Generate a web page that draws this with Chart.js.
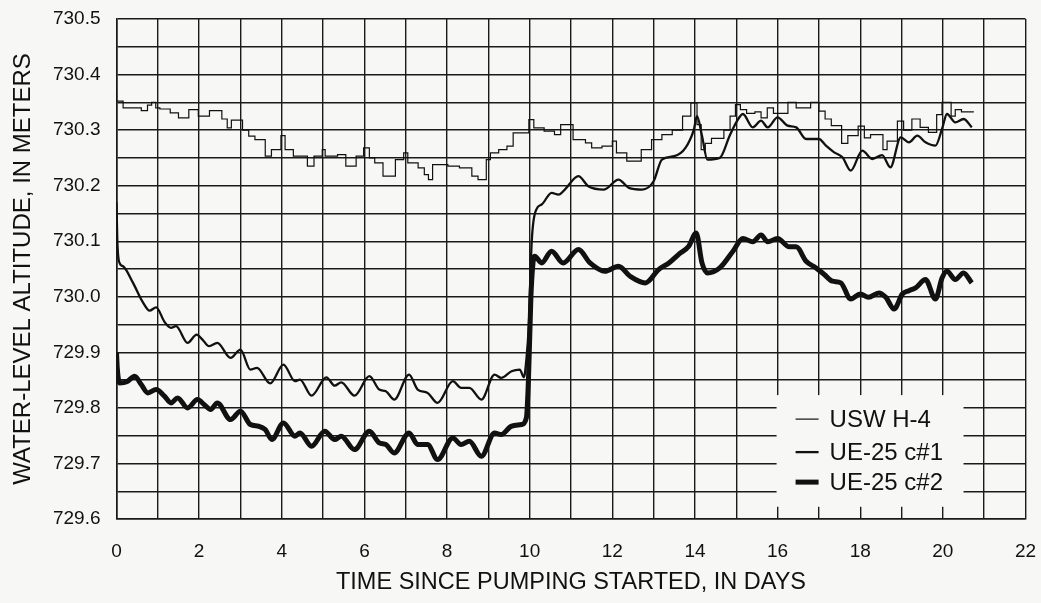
<!DOCTYPE html>
<html>
<head>
<meta charset="utf-8">
<script src="https://cdn.jsdelivr.net/npm/chart.js@4/dist/chart.umd.min.js"></script>
<style>
html,body{margin:0;padding:0;background:#f7f8f6;}
#wrap{width:1041px;height:603px;}
</style>
</head>
<body>
<div id="wrap"><canvas id="chartWater"></canvas></div>
<script>

const seriesNames = ["USW H-4","UE-25 c#1","UE-25 c#2"];

const h4Days = [0,0.16,0.6,0.75,0.85,0.95,1.05,1.3,1.5,1.75,1.98,2.25,2.55,2.68,2.78,3.05,3.2,3.35,3.6,3.75,3.98,4.08,4.28,4.62,4.78,4.98,5.05,5.35,5.55,5.8,5.98,6.12,6.25,6.45,6.75,6.95,7.05,7.3,7.45,7.55,7.65,8.02,8.3,8.6,8.75,8.95,9.05,9.25,9.45,9.6,9.98,10.1,10.35,10.6,10.75,11.05,11.35,11.5,11.75,12.0,12.1,12.35,12.7,12.95,13.2,13.45,13.7,13.9,14.05,14.15,14.25,14.4,14.7,14.85,14.98,15.1,15.25,15.45,15.6,15.75,15.9,16.25,16.45,16.8,17.0,17.15,17.3,17.55,17.7,17.95,18.1,18.25,18.55,18.65,18.9,19.05,19.25,19.45,19.65,19.85,19.98,20.2,20.3,20.45,20.75];
const h4Level = [730.373,730.352,730.340,730.335,730.345,730.350,730.340,730.338,730.331,730.322,730.337,730.325,730.335,730.320,730.304,730.318,730.300,730.289,730.283,730.253,730.265,730.290,730.265,730.253,730.235,730.253,730.265,730.253,730.256,730.235,730.253,730.268,730.250,730.241,730.217,730.247,730.259,730.241,730.232,730.220,730.211,730.238,730.235,730.232,730.217,730.211,730.247,730.259,730.265,730.271,730.295,730.319,730.304,730.298,730.292,730.310,730.283,730.277,730.268,730.271,730.280,730.259,730.244,730.265,730.283,730.292,730.300,730.325,730.349,730.310,730.265,730.276,730.285,730.300,730.325,730.346,730.337,730.330,730.333,730.322,730.340,730.330,730.350,730.340,730.350,730.334,730.320,730.308,730.276,730.290,730.307,730.286,730.292,730.265,730.280,730.316,730.300,730.320,730.305,730.296,730.328,730.350,730.325,730.337,730.333];

const c1Days = [0,0.02,0.08,0.16,0.4,0.64,0.8,0.96,1.16,1.32,1.44,1.72,1.94,2.08,2.24,2.44,2.76,3.0,3.24,3.4,3.72,4.04,4.32,4.44,4.72,5.08,5.28,5.44,5.76,6.12,6.36,6.52,6.72,7.08,7.29,7.53,7.77,8.14,8.34,8.54,8.83,9.15,9.31,9.56,9.76,9.86,9.92,9.98,10.05,10.16,10.29,10.53,10.7,10.85,11.18,11.42,11.8,12.15,12.4,12.72,13.0,13.2,13.5,13.77,13.97,14.05,14.17,14.3,14.6,14.84,15.0,15.16,15.4,15.6,15.76,16.0,16.24,16.45,16.69,17.0,17.17,17.37,17.57,17.77,18.05,18.29,18.53,18.73,18.98,19.18,19.38,19.58,19.82,19.98,20.1,20.3,20.5,20.7];
const c1Level = [730.170,730.100,730.060,730.055,730.025,729.990,729.975,729.981,729.955,729.944,729.947,729.917,729.932,729.923,729.911,729.917,729.890,729.905,729.869,729.872,729.844,729.878,729.848,729.851,729.822,729.855,729.840,729.846,729.822,729.857,729.833,729.830,729.815,729.860,729.833,729.827,729.809,729.848,729.836,729.836,729.815,729.860,729.854,729.866,729.869,729.855,729.887,729.950,730.100,730.157,730.166,730.187,730.184,730.193,730.217,730.199,730.193,730.211,730.196,730.193,730.208,730.247,730.253,730.268,730.300,730.325,730.290,730.247,730.250,730.290,730.314,730.329,730.305,730.317,730.305,730.323,730.308,730.305,730.284,730.284,730.272,730.260,730.251,730.227,730.263,730.248,730.255,730.233,730.287,730.278,730.290,730.278,730.272,730.302,730.329,730.314,730.320,730.305];

const c2Days = [0,0.02,0.08,0.25,0.44,0.6,0.76,0.96,1.16,1.32,1.48,1.72,1.96,2.12,2.28,2.44,2.76,3.0,3.24,3.44,3.6,3.76,4.04,4.32,4.44,4.72,5.04,5.28,5.44,5.76,6.12,6.36,6.52,6.72,7.08,7.29,7.53,7.77,8.14,8.34,8.54,8.83,9.15,9.31,9.56,9.8,9.92,9.97,10.03,10.08,10.12,10.29,10.53,10.81,11.18,11.46,11.82,12.15,12.43,12.8,13.12,13.37,13.6,13.85,14.03,14.17,14.3,14.6,14.92,15.16,15.4,15.6,15.76,16.0,16.28,16.45,16.69,16.93,17.13,17.33,17.53,17.77,18.0,18.2,18.45,18.62,18.82,19.02,19.18,19.34,19.58,19.82,19.98,20.1,20.3,20.5,20.7];
const c2Level = [729.900,729.870,729.845,729.847,729.857,729.842,729.827,729.833,729.821,729.809,729.818,729.800,729.815,729.806,729.797,729.809,729.779,729.794,729.770,729.767,729.761,729.743,729.773,729.749,729.755,729.731,729.758,729.743,729.749,729.725,729.758,729.737,729.734,729.719,729.755,729.734,729.734,729.707,729.746,729.734,729.740,729.713,729.755,729.752,729.767,729.770,729.782,729.850,730.000,730.061,730.073,730.061,730.082,730.061,730.085,730.061,730.046,730.055,730.037,730.025,730.049,730.061,730.076,730.091,730.115,730.061,730.043,730.052,730.082,730.105,730.099,730.111,730.099,730.105,730.090,730.090,730.064,730.052,730.040,730.028,730.025,729.996,730.005,729.999,730.007,729.999,729.978,730.005,730.011,730.016,730.031,729.996,730.034,730.046,730.031,730.043,730.025];

const xMin = 0, xMax = 22, xStep = 1;
const yMin = 729.6, yMax = 730.5, yStep = 0.05;

const ink = "#111";
const paper = "#f7f8f6";
const fontName = "'Liberation Sans', Arial, sans-serif";

function pts(xs, ys){
return xs.map((x,i)=>({x:x, y:ys[i]}));
}

function noOverflow(scale){
scale.paddingTop = 0;
scale.paddingBottom = 0;
scale.paddingLeft = 0;
scale.paddingRight = 0;
}

// legend drawn inside the plot, on a blank box that hides the grid
const boxLegend = {
id:"boxLegend",
afterDatasetsDraw(chart){
const ctx = chart.ctx;
const xs = chart.scales.x, ys = chart.scales.y;
const left = xs.getPixelForValue(16), right = xs.getPixelForValue(20.5);
const top = ys.getPixelForValue(729.823), bottom = ys.getPixelForValue(729.622);
ctx.save();
ctx.fillStyle = paper;
ctx.fillRect(left-1, top, right-left+1, bottom-top);
ctx.font = "24px " + fontName;
ctx.textBaseline = "middle";
ctx.fillStyle = ink;
const rows = [top+24, top+57, top+87];
chart.data.datasets.forEach((ds,i)=>{
ctx.strokeStyle = ink;
ctx.lineWidth = ds.borderWidth;
ctx.beginPath();
ctx.moveTo(left+18, rows[i]);
ctx.lineTo(left+41, rows[i]);
ctx.stroke();
ctx.fillText(ds.label, left+52, rows[i]+1);
});
ctx.restore();
}
};

new Chart(
document.getElementById("chartWater"),
{
type:"line",
data:{
datasets:[{
label:seriesNames[0],
data:pts(h4Days,h4Level),
borderColor:ink,
borderWidth:1.2,
stepped:"after",
pointRadius:0
},{
label:seriesNames[1],
data:pts(c1Days,c1Level),
borderColor:ink,
borderWidth:2.3,
cubicInterpolationMode:"monotone",
pointRadius:0
},{
label:seriesNames[2],
data:pts(c2Days,c2Level),
borderColor:ink,
borderWidth:5,
cubicInterpolationMode:"monotone",
pointRadius:0
}]
},
options:{
responsive:true,
maintainAspectRatio:false,
animation:false,
layout:{padding:{top:19,right:15.5,left:0,bottom:0}},
plugins:{
legend:{display:false},
tooltip:{enabled:false}
},
scales:{
x:{
type:"linear",
min:xMin,
max:xMax,
afterFit(scale){ scale.height = 84; noOverflow(scale); },
grid:{color:"#1a1a1a",lineWidth:1.4,drawTicks:false},
border:{color:"#1a1a1a",width:1.6},
ticks:{
stepSize:xStep,
autoSkip:false,
maxRotation:0,
padding:21,
color:ink,
font:{family:fontName,size:19},
callback:v=> v % 2 === 0 ? String(v) : ""
},
title:{
display:true,
text:"TIME SINCE PUMPING STARTED, IN DAYS",
color:ink,
font:{family:fontName,size:23.5},
padding:{top:0,bottom:6}
}
},
y:{
min:yMin,
max:yMax,
afterFit(scale){ scale.width = 116.5; noOverflow(scale); },
grid:{color:"#1a1a1a",lineWidth:1.4,drawTicks:false},
border:{color:"#1a1a1a",width:1.6},
ticks:{
stepSize:yStep,
autoSkip:false,
padding:16,
color:ink,
font:{family:fontName,size:19},
callback:v=> Math.round(v*100) % 10 === 0 ? v.toFixed(1) : ""
},
title:{
display:true,
text:"WATER-LEVEL ALTITUDE, IN METERS",
color:ink,
font:{family:fontName,size:24},
padding:{top:9,bottom:0}
}
}
}
},
plugins:[boxLegend]
});

</script>
</body>
</html>
